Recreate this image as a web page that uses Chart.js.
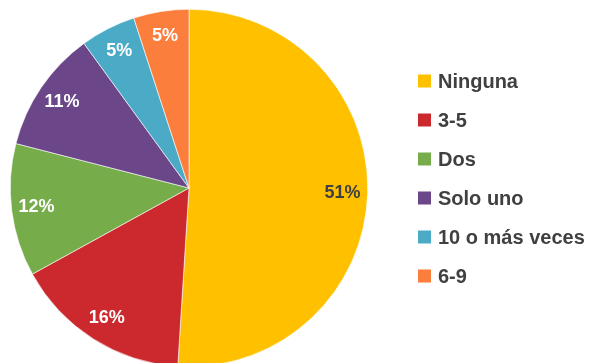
<!DOCTYPE html>
<html>
<head>
<meta charset="utf-8">
<script src="https://cdn.jsdelivr.net/npm/chart.js@4"></script>
<style>
  html, body { margin:0; padding:0; background:#fff; overflow:hidden; }
  #wrap { width:589px; height:376px; }
</style>
</head>
<body>
<div id="wrap"><canvas id="pie" width="589" height="376"></canvas></div>
<script>
// data
const categories = ['Ninguna', '3-5', 'Dos', 'Solo uno', '10 o más veces', '6-9'];
const shares = [51, 16, 12, 11, 5, 5];
const sliceColors = ['#FFC000', '#CB292D', '#76AD4A', '#6B4689', '#4BABC6', '#FC7E3C'];
const labelColors = ['#404040', '#fff', '#fff', '#fff', '#fff', '#fff'];

// percentage labels near the outer edge of each slice (Excel "inside end" look)
const sliceLabels = {
  id: 'sliceLabels',
  afterDatasetsDraw(chart){
    const ctx = chart.ctx;
    const arcs = chart.getDatasetMeta(0).data;
    ctx.save();
    ctx.font = 'bold 18px "Liberation Sans", Arial, sans-serif';
    ctx.textAlign = 'center'; ctx.textBaseline = 'middle';
    arcs.forEach((a, i) => {
      const p = a.getProps(['x','y','startAngle','endAngle','outerRadius'], true);
      const mid = (p.startAngle + p.endAngle) / 2;
      const r = p.outerRadius * 0.86;
      ctx.fillStyle = labelColors[i];
      ctx.fillText(shares[i] + '%', p.x + Math.cos(mid)*r, p.y + Math.sin(mid)*r);
    });
    ctx.restore();
  }
};

// legend drawn by hand so spacing matches the original
const sideLegend = {
  id: 'sideLegend',
  afterDraw(chart){
    const ctx = chart.ctx;
    const x0 = 418, y0 = 81, step = 39, box = 13;
    ctx.save();
    ctx.font = 'bold 20px "Liberation Sans", Arial, sans-serif';
    ctx.textBaseline = 'middle'; ctx.textAlign = 'left';
    chart.data.labels.forEach((lab, i) => {
      const y = y0 + i*step;
      ctx.fillStyle = chart.data.datasets[0].backgroundColor[i];
      ctx.fillRect(x0, y - box/2, box, box);
      ctx.fillStyle = '#404040';
      ctx.fillText(lab, x0 + 20, y + 1);
    });
    ctx.restore();
  }
};

new Chart(document.getElementById('pie'), {
  type: 'pie',
  data: {
    labels: categories,
    datasets: [{ data: shares, backgroundColor: sliceColors, borderColor: '#fff', borderWidth: 0.6, hoverOffset: 0 }]
  },
  options: {
    responsive: false, animation: false,
    layout: { padding: { left: 10, top: 9, bottom: 9, right: 221 } },
    plugins: { legend: { display: false }, tooltip: { enabled: false } }
  },
  plugins: [sliceLabels, sideLegend]
});
</script>
</body>
</html>
